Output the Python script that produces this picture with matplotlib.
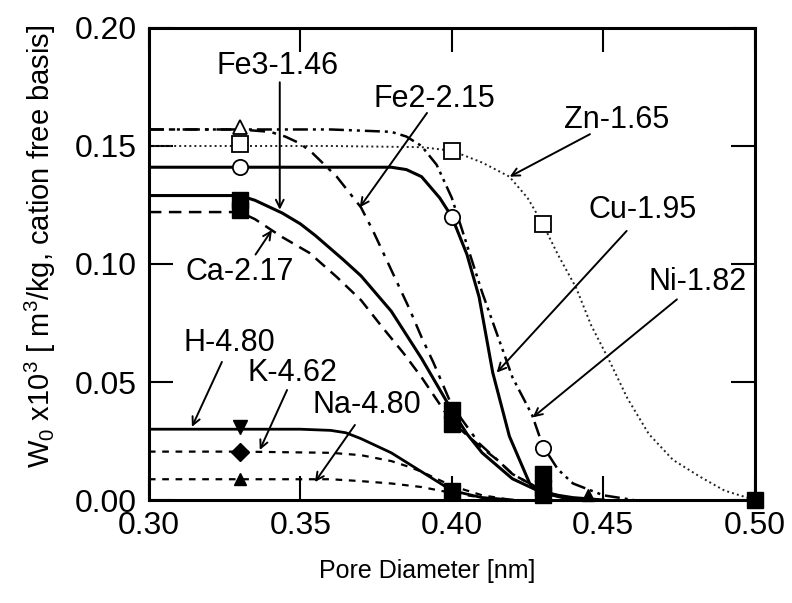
import matplotlib
matplotlib.use('Agg')
import matplotlib.pyplot as plt

plt.rcParams['font.family'] = ['Liberation Sans', 'DejaVu Sans']
plt.rcParams['mathtext.fontset'] = 'custom'
plt.rcParams['mathtext.rm'] = 'Liberation Sans'
plt.rcParams['mathtext.it'] = 'Liberation Sans'

# curves (pore diameter nm, W0 x10^3)
zn_x = [0.30, 0.33, 0.36, 0.39, 0.40, 0.41, 0.419, 0.425, 0.43, 0.435, 0.441, 0.446, 0.452, 0.458, 0.465, 0.473, 0.482, 0.49, 0.50]
zn_y = [0.150, 0.150, 0.150, 0.1495, 0.148, 0.143, 0.137, 0.128, 0.117, 0.104, 0.090, 0.074, 0.059, 0.043, 0.028, 0.017, 0.0098, 0.004, 0.0]

fe2_x = [0.30, 0.33, 0.34, 0.345, 0.35, 0.354, 0.362, 0.37, 0.374, 0.378, 0.382, 0.386, 0.39, 0.394, 0.40, 0.409, 0.415, 0.42, 0.43, 0.44]
fe2_y = [0.157, 0.157, 0.156, 0.154, 0.151, 0.147, 0.137, 0.124, 0.114, 0.103, 0.092, 0.081, 0.069, 0.058, 0.040, 0.024, 0.017, 0.011, 0.004, 0.0]

ni_x = [0.30, 0.33, 0.36, 0.38, 0.385, 0.39, 0.395, 0.40, 0.405, 0.41, 0.415, 0.42, 0.4265, 0.43, 0.435, 0.44, 0.45, 0.46]
ni_y = [0.157, 0.157, 0.157, 0.156, 0.154, 0.150, 0.142, 0.128, 0.108, 0.088, 0.070, 0.052, 0.036, 0.023, 0.013, 0.007, 0.002, 0.0]

cu_x = [0.30, 0.33, 0.36, 0.38, 0.385, 0.39, 0.396, 0.40, 0.405, 0.409, 0.4135, 0.419, 0.4257, 0.43, 0.44, 0.45]
cu_y = [0.141, 0.141, 0.141, 0.141, 0.140, 0.137, 0.128, 0.120, 0.104, 0.086, 0.054, 0.027, 0.007, 0.003, 0.001, 0.0]

fe3_x = [0.30, 0.33, 0.335, 0.34, 0.344, 0.35, 0.355, 0.364, 0.37, 0.38, 0.39, 0.395, 0.40, 0.405, 0.41, 0.42, 0.43, 0.44]
fe3_y = [0.129, 0.129, 0.127, 0.124, 0.1216, 0.117, 0.112, 0.102, 0.095, 0.080, 0.060, 0.049, 0.038, 0.028, 0.020, 0.009, 0.003, 0.0]

ca_x = [0.30, 0.33, 0.335, 0.344, 0.353, 0.362, 0.37, 0.377, 0.384, 0.39, 0.40, 0.41, 0.415, 0.42, 0.43, 0.44]
ca_y = [0.122, 0.122, 0.119, 0.1114, 0.1047, 0.0945, 0.0847, 0.0733, 0.0623, 0.052, 0.033, 0.022, 0.017, 0.011, 0.004, 0.0]

h_x = [0.30, 0.33, 0.35, 0.36, 0.365, 0.37, 0.38, 0.39, 0.396, 0.40, 0.41, 0.42]
h_y = [0.030, 0.030, 0.030, 0.0295, 0.0285, 0.026, 0.020, 0.012, 0.0072, 0.004, 0.001, 0.0]

k_x = [0.30, 0.33, 0.36, 0.37, 0.38, 0.386, 0.39, 0.40, 0.41, 0.42]
k_y = [0.0205, 0.0205, 0.020, 0.019, 0.0165, 0.014, 0.012, 0.006, 0.002, 0.0]

na_x = [0.30, 0.33, 0.36, 0.37, 0.38, 0.39, 0.40, 0.41, 0.42]
na_y = [0.0088, 0.0088, 0.0088, 0.008, 0.007, 0.0055, 0.003, 0.001, 0.0]

# measured points
open_tri_x = [0.33]
open_tri_y = [0.158]
open_sq_x = [0.33, 0.40, 0.43]
open_sq_y = [0.151, 0.148, 0.117]
open_circ_x = [0.33, 0.40, 0.43]
open_circ_y = [0.141, 0.120, 0.022]
fill_sq_x = [0.33, 0.33, 0.40, 0.40, 0.40, 0.43, 0.43, 0.43, 0.50]
fill_sq_y = [0.127, 0.123, 0.038, 0.032, 0.004, 0.011, 0.005, 0.002, 0.0]
fill_vtri_x = [0.33]
fill_vtri_y = [0.031]
fill_dia_x = [0.33]
fill_dia_y = [0.0205]
fill_tri_x = [0.33, 0.445]
fill_tri_y = [0.009, 0.002]

# labels: text, text position, arrow start, arrow tip
labels = ['Fe3-1.46', 'Fe2-2.15', 'Zn-1.65', 'Cu-1.95', 'Ni-1.82', 'Ca-2.17', 'H-4.80', 'K-4.62', 'Na-4.80']
label_xy = [(0.3426, 0.184), (0.3944, 0.170), (0.4545, 0.161), (0.463, 0.123), (0.4812, 0.0924),
            (0.330, 0.0966), (0.3267, 0.0665), (0.3475, 0.0538), (0.372, 0.0403)]
arrow_from = [(0.3432, 0.177), (0.3918, 0.164), (0.4456, 0.155), (0.4577, 0.114), (0.4743, 0.085),
              (0.3352, 0.1040), (0.3241, 0.0585), (0.3456, 0.0466), (0.3680, 0.0318)]
arrow_to = [(0.3432, 0.123), (0.3696, 0.124), (0.4191, 0.137), (0.4148, 0.054), (0.4267, 0.035),
            (0.3406, 0.1144), (0.3142, 0.031), (0.3366, 0.0212), (0.3548, 0.0076)]

fig = plt.figure(figsize=(7.92, 6.03), dpi=100)
ax = fig.add_axes([0.188, 0.1708, 0.765, 0.7828])

ax.plot(zn_x, zn_y, color='#222222', lw=1.4, linestyle=(0, (1, 1.6)))
ax.plot(fe2_x, fe2_y, color='black', lw=1.8, linestyle=(0, (6, 3, 1.5, 3)))
ax.plot(ni_x, ni_y, color='black', lw=1.8, linestyle=(0, (6, 2, 1.2, 2, 1.2, 2)))
ax.plot(cu_x, cu_y, color='black', lw=2.2)
ax.plot(fe3_x, fe3_y, color='black', lw=2.2)
ax.plot(ca_x, ca_y, color='black', lw=1.8, linestyle=(0, (5, 3)))
ax.plot(h_x, h_y, color='black', lw=2.0)
ax.plot(k_x, k_y, color='black', lw=1.6, linestyle=(0, (3, 3)))
ax.plot(na_x, na_y, color='black', lw=1.6, linestyle=(0, (3, 3)))

mk = dict(linestyle='none', color='black', clip_on=False, zorder=5)
ax.plot(open_tri_x, open_tri_y, marker='^', ms=10, mfc='white', mew=1.3, **mk)
ax.plot(open_sq_x, open_sq_y, marker='s', ms=11, mfc='white', mew=1.3, **mk)
ax.plot(open_circ_x, open_circ_y, marker='o', ms=11, mfc='white', mew=1.3, **mk)
ax.plot(fill_sq_x, fill_sq_y, marker='s', ms=12, **mk)
ax.plot(fill_vtri_x, fill_vtri_y, marker='v', ms=10, **mk)
ax.plot(fill_dia_x, fill_dia_y, marker='D', ms=9, **mk)
ax.plot(fill_tri_x, fill_tri_y, marker='^', ms=9, **mk)

for text, txy, a0, a1 in zip(labels, label_xy, arrow_from, arrow_to):
    ax.text(txy[0], txy[1], text, fontsize=22, ha='center', va='center')
    ax.annotate('', xy=a1, xytext=a0,
                arrowprops=dict(arrowstyle='->', lw=1.4, color='black',
                                shrinkA=0, shrinkB=0, mutation_scale=14))

ax.set_xlim(0.30, 0.50)
ax.set_ylim(0.0, 0.20)
ax.set_xticks([0.30, 0.35, 0.40, 0.45, 0.50])
ax.set_yticks([0.00, 0.05, 0.10, 0.15, 0.20])
ax.xaxis.set_major_formatter(matplotlib.ticker.FormatStrFormatter('%.2f'))
ax.yaxis.set_major_formatter(matplotlib.ticker.FormatStrFormatter('%.2f'))
ax.tick_params(direction='in', length=17, width=1.5, labelsize=23,
               top=True, right=True)
ax.tick_params(axis='x', pad=8)
ax.tick_params(axis='y', pad=9)
for s in ax.spines.values():
    s.set_linewidth(2.2)

ax.set_xlabel('Pore Diameter [nm]', fontsize=18)
ax.set_ylabel(r'W$_0$ x10$^3$ [ m$^3$/kg, cation free basis]', fontsize=21)
ax.xaxis.set_label_coords(0.459, -0.125)
ax.yaxis.set_label_coords(-0.15, 0.538)

fig.savefig('out.png', dpi=100)
